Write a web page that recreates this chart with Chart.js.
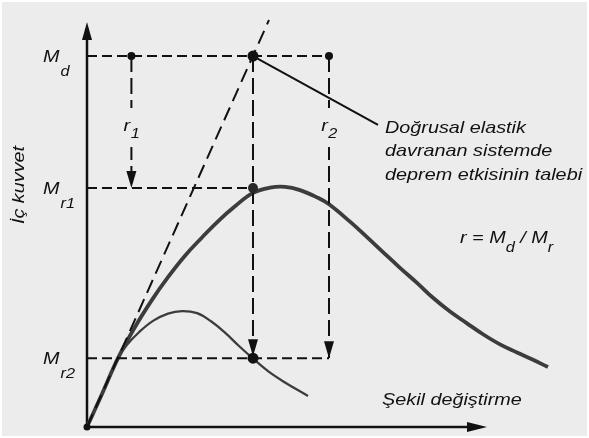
<!DOCTYPE html>
<html lang="tr">
<head>
<meta charset="utf-8">
<title>İç kuvvet - Şekil değiştirme</title>
<script src="https://cdn.jsdelivr.net/npm/chart.js@4"></script>
<style>
  html, body { margin: 0; padding: 0; background: #fff; }
  canvas { display: block; }
</style>
</head>
<body>
<canvas id="diagram" width="589" height="438"></canvas>
<script>
// Kapasite eğrisi (kalın çizgi)
const capacityX = [0, 3.75, 7.75, 12, 16.25, 20.25, 24.5, 28.75, 32.75, 37, 41.5, 45.75, 49.5, 53.25, 57.5, 60.5, 65.75, 70, 74, 78.25, 82.5, 86.5, 90.75, 95, 99, 103.25, 107.5, 111.5, 115.25];
const capacityY = [0, 8.15, 17.0, 24.7, 31.4, 37.0, 42.3, 46.8, 50.8, 54.5, 57.8, 59.1, 59.3, 58.5, 56.7, 55.0, 50.7, 46.9, 43.2, 39.3, 35.6, 31.9, 28.5, 25.6, 22.9, 20.4, 18.4, 16.6, 14.8];

// Dayanımı düşük sistem (ince çizgi)
const weakX = [0, 3.75, 7.75, 10, 13, 16.5, 20.25, 23.75, 27.5, 31, 34.5, 38, 41.5, 45.25, 49.5, 55.25];
const weakY = [0, 8.15, 17.0, 20.3, 23.4, 26.2, 28.0, 28.6, 28.1, 26.1, 23.3, 20.0, 16.9, 13.8, 11.0, 7.65];

// Doğrusal elastik davranış
const elasticX = [0, 45.5];
const elasticY = [0, 100.5];

// Eksenlerin uç değerleri (ok uçları)
const axisEnd = [100, 100];

// Düzeyler: M_d, M_r1, M_r2
const levelSubs = ['d', 'r1', 'r2'];
const levelY = [91.6, 59.0, 17.0];

// Düşey çizgiler: r1, talep noktası, r2
const dropX = [11.1, 41.5, 60.5];

// Açıklama çizgisi
const leaderX = [41.5, 72.75];
const leaderY = [91.6, 74.6];

const noteLines = ['Doğrusal elastik', 'davranan sistemde', 'deprem etkisinin talebi'];

const BG = '#ececec';
const INK = '#111111';
const CURVE = '#3c3c3c';
const FONT = '"Liberation Sans", Arial, sans-serif';
const STRETCH = 1.165;

function pts(xs, ys) {
    return xs.map((x, i) => ({ x: x, y: ys[i] }));
}

function dashed(data, dash) {
    return {
        data: data,
        borderColor: INK,
        borderWidth: 2,
        borderDash: dash,
        pointRadius: 0,
        clip: false
    };
}

// Italik yazı, yatayda biraz geniş
function drawText(ctx, text, x, y, size, align) {
    ctx.save();
    ctx.font = 'italic ' + size + 'px ' + FONT;
    ctx.translate(x, y);
    ctx.scale(STRETCH, 1);
    ctx.textAlign = align || 'left';
    ctx.textBaseline = 'alphabetic';
    ctx.fillText(text, 0, 0);
    const w = ctx.measureText(text).width * STRETCH;
    ctx.restore();
    return w;
}

function textWidth(ctx, text, size) {
    ctx.save();
    ctx.font = 'italic ' + size + 'px ' + FONT;
    const w = ctx.measureText(text).width * STRETCH;
    ctx.restore();
    return w;
}

function arrowHead(ctx, tipX, tipY, dir, len, half) {
    ctx.beginPath();
    if (dir === 'down') {
        ctx.moveTo(tipX, tipY);
        ctx.lineTo(tipX - half, tipY - len);
        ctx.lineTo(tipX + half, tipY - len);
    } else if (dir === 'up') {
        ctx.moveTo(tipX, tipY);
        ctx.lineTo(tipX - half, tipY + len);
        ctx.lineTo(tipX + half, tipY + len);
    } else {
        ctx.moveTo(tipX, tipY);
        ctx.lineTo(tipX - len, tipY - half);
        ctx.lineTo(tipX - len, tipY + half);
    }
    ctx.closePath();
    ctx.fill();
}

const diagramPlugin = {
    id: 'diagram',
    beforeDraw(chart) {
        const ctx = chart.ctx;
        ctx.save();
        ctx.fillStyle = '#ffffff';
        ctx.fillRect(0, 0, chart.width, chart.height);
        ctx.fillStyle = BG;
        ctx.fillRect(2, 2, chart.width - 4, chart.height - 4);
        ctx.restore();
    },
    beforeDatasetsDraw(chart) {
        // eksenler ve oklar
        const ctx = chart.ctx;
        const xs = chart.scales.x, ys = chart.scales.y;
        const x0 = xs.getPixelForValue(0), y0 = ys.getPixelForValue(0);
        const top = ys.getPixelForValue(axisEnd[1]);
        const right = xs.getPixelForValue(axisEnd[0]);
        ctx.save();
        ctx.strokeStyle = INK;
        ctx.fillStyle = INK;
        ctx.lineWidth = 2.5;
        ctx.beginPath();
        ctx.moveTo(x0, y0 + 1);
        ctx.lineTo(x0, top + 12);
        ctx.moveTo(x0 - 1, y0);
        ctx.lineTo(right - 12, y0);
        ctx.stroke();
        arrowHead(ctx, x0, top, 'up', 18, 5);
        arrowHead(ctx, right, y0, 'right', 20, 5);
        ctx.restore();
    },
    afterDatasetsDraw(chart) {
        const ctx = chart.ctx;
        const xs = chart.scales.x, ys = chart.scales.y;
        ctx.save();
        ctx.fillStyle = INK;

        // kesikli düşey çizgilerin uçlarındaki oklar
        arrowHead(ctx, xs.getPixelForValue(dropX[0]), ys.getPixelForValue(levelY[1]), 'down', 17, 5);
        arrowHead(ctx, xs.getPixelForValue(dropX[1]), ys.getPixelForValue(levelY[2]) - 2, 'down', 17, 5);
        arrowHead(ctx, xs.getPixelForValue(dropX[2]), ys.getPixelForValue(levelY[2]), 'down', 17, 5);

        // r1 ve r2 etiketleri
        ['1', '2'].forEach((sub, i) => {
            const lx = xs.getPixelForValue(dropX[i * 2]);
            const base = 131;
            const w = textWidth(ctx, 'r', 17) + textWidth(ctx, sub, 14);
            ctx.fillStyle = BG;
            ctx.fillRect(lx - 8, base - 23, 16, 39);
            ctx.fillStyle = INK;
            const sx = lx - w / 2;
            const rw = drawText(ctx, 'r', sx, base, 17);
            drawText(ctx, sub, sx + rw + 0.5, base + 7, 14);
        });

        // sol taraftaki M etiketleri
        levelY.forEach((v, i) => {
            const py = ys.getPixelForValue(v);
            const mw = drawText(ctx, 'M', 43, py + 6, 17);
            drawText(ctx, levelSubs[i], 43 + mw + 1, py + 20, 14);
        });

        // eksen başlıkları
        ctx.save();
        ctx.translate(24, 185);
        ctx.rotate(-Math.PI / 2);
        drawText(ctx, 'İç kuvvet', 0, 0, 17, 'center');
        ctx.restore();
        drawText(ctx, 'Şekil değiştirme', 382, 405, 17);

        // açıklama
        const nx = xs.getPixelForValue(leaderX[1]) + 7;
        const ny = ys.getPixelForValue(leaderY[1]) + 8;
        noteLines.forEach((t, i) => drawText(ctx, t, nx, ny + i * 23.5, 17));

        // r = Md / Mr
        let cx = 460;
        cx += drawText(ctx, 'r = M', cx, 243, 17);
        cx += drawText(ctx, 'd', cx, 252, 14);
        cx += drawText(ctx, ' / M', cx, 243, 17);
        drawText(ctx, 'r', cx, 252, 14);

        ctx.restore();
    }
};

const dotData = [
    { x: 0, y: 0 },
    { x: dropX[0], y: levelY[0] },
    { x: dropX[1], y: levelY[0] },
    { x: dropX[2], y: levelY[0] },
    { x: dropX[1], y: levelY[1] },
    { x: dropX[1], y: levelY[2] }
];

new Chart(document.getElementById('diagram'), {
    type: 'line',
    data: {
        datasets: [
            {
                data: dotData,
                pointRadius: [3.5, 4, 5.5, 4, 5, 5.5],
                pointBackgroundColor: ['#111', '#111', '#111', '#111', '#2a2a2a', '#111'],
                pointBorderWidth: 0,
                showLine: false,
                clip: false
            },
            {
                data: pts(leaderX, leaderY),
                borderColor: INK,
                borderWidth: 2,
                pointRadius: 0,
                clip: false
            },
            dashed([{ x: dropX[0], y: levelY[0] }, { x: dropX[0], y: levelY[1] }], [16, 6]),
            dashed([{ x: dropX[1], y: levelY[0] }, { x: dropX[1], y: levelY[2] }], [16, 6]),
            dashed([{ x: dropX[2], y: levelY[0] }, { x: dropX[2], y: levelY[2] }], [16, 6]),
            dashed([{ x: 0, y: levelY[0] }, { x: dropX[2], y: levelY[0] }], [10, 5]),
            dashed([{ x: 0, y: levelY[1] }, { x: dropX[1], y: levelY[1] }], [10, 5]),
            dashed([{ x: 0, y: levelY[2] }, { x: dropX[2], y: levelY[2] }], [10, 5]),
            dashed(pts(elasticX, elasticY), [14, 7]),
            {
                data: pts(weakX, weakY),
                borderColor: CURVE,
                borderWidth: 2.3,
                pointRadius: 0,
                tension: 0.4,
                clip: false
            },
            {
                data: pts(capacityX, capacityY),
                borderColor: CURVE,
                borderWidth: 3.8,
                pointRadius: 0,
                tension: 0.4,
                clip: false
            }
        ]
    },
    options: {
        responsive: false,
        animation: false,
        devicePixelRatio: 1,
        // 4 px = 1 birim (x), 4.05 px = 1 birim (y)
        layout: { padding: { left: 87, right: 38, top: 22, bottom: 11 } },
        scales: {
            x: { type: 'linear', min: 0, max: 116, display: false },
            y: { type: 'linear', min: 0, max: 100, display: false }
        },
        plugins: {
            legend: { display: false },
            tooltip: { enabled: false }
        }
    },
    plugins: [diagramPlugin]
});
</script>
</body>
</html>
